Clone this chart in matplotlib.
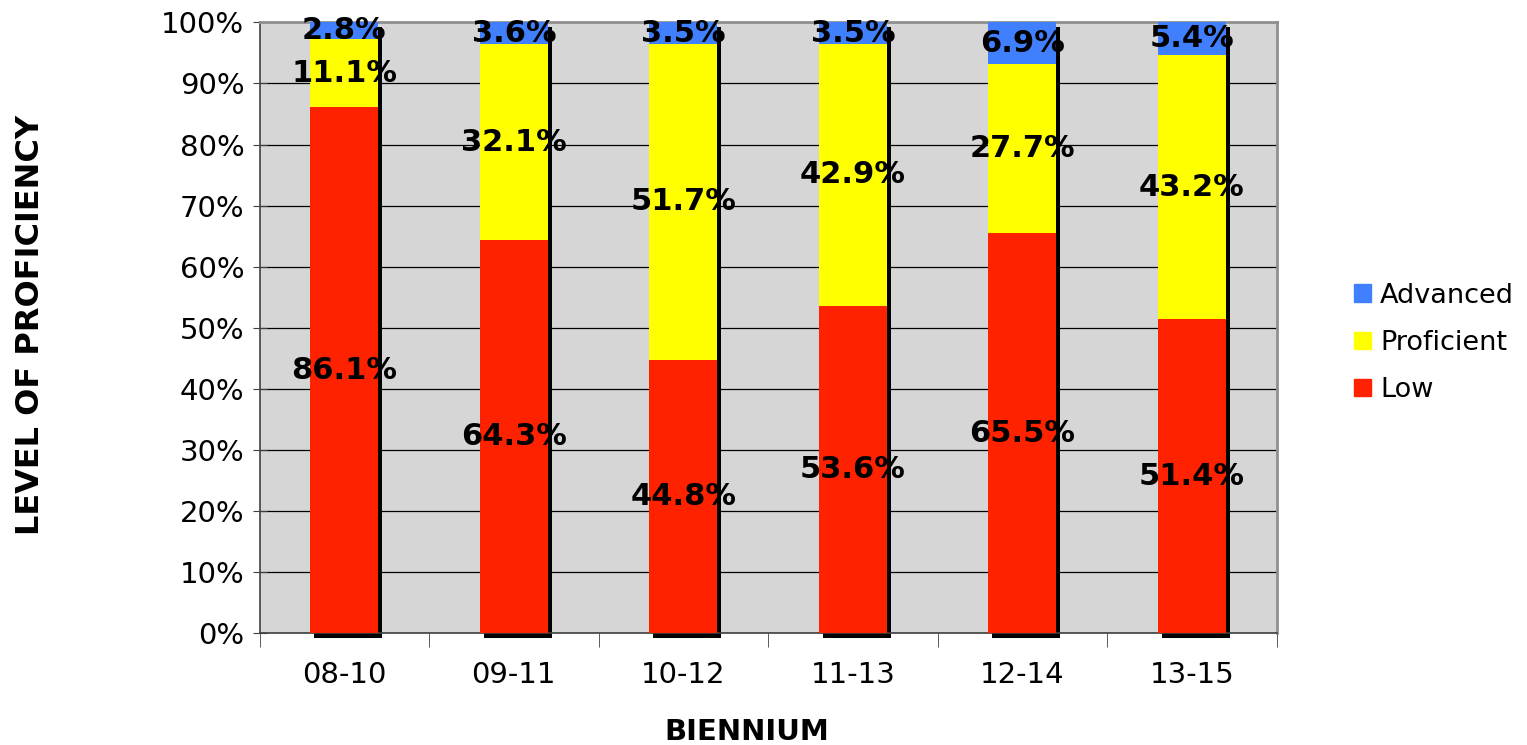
import matplotlib
matplotlib.use("Agg")
import matplotlib.pyplot as plt
import matplotlib.transforms as mtransforms
from matplotlib.patches import Patch
import numpy as np

categories = ["08-10", "09-11", "10-12", "11-13", "12-14", "13-15"]
low = [86.1, 64.3, 44.8, 53.6, 65.5, 51.4]
proficient = [11.1, 32.1, 51.7, 42.9, 27.7, 43.2]
advanced = [2.8, 3.6, 3.5, 3.5, 6.9, 5.4]

series = [("Low", low, "#FF2200"), ("Proficient", proficient, "#FFFF00"),
          ("Advanced", advanced, "#4080FF")]

plt.rcParams["font.family"] = "DejaVu Sans"
fig = plt.figure(figsize=(15.27, 7.45), dpi=100)
ax = fig.add_axes([0.170, 0.150, 0.666, 0.820])
ax.set_facecolor("#D6D6D6")

x = np.arange(len(categories))
width = 0.40

# black drop shadow behind each whole stack
totals = np.array(low) + np.array(proficient) + np.array(advanced)
shift = mtransforms.ScaledTranslation(0.04, -0.05, fig.dpi_scale_trans)
shadows = ax.bar(x, np.minimum(totals, 100) / 100, width, color="black", zorder=2)
for p in shadows:
    p.set_transform(ax.transData + shift)
    p.set_clip_on(False)

bottom = np.zeros(len(categories))
for name, vals, col in series:
    v = np.array(vals) / 100
    h = np.minimum(v, 1 - bottom)
    ax.bar(x, h, width, bottom=bottom, color=col, zorder=3, label=name)
    for xi, b, hi, val in zip(x, bottom, h, vals):
        ax.text(xi, b + hi / 2, f"{val:.1f}%", ha="center", va="center",
                fontsize=22, fontweight="bold", zorder=5)
    bottom = bottom + v

ax.set_xlim(-0.5, len(categories) - 0.5)
ax.set_ylim(0, 1)
yt = np.arange(0, 1.01, 0.1)
ax.set_yticks(yt)
ax.set_yticklabels([f"{int(round(t * 100))}%" for t in yt], fontsize=21)
ax.yaxis.grid(True, color="black", linewidth=0.9, zorder=1)
ax.set_axisbelow(True)
ax.tick_params(axis="y", direction="inout", length=10, color="#404040", pad=6)

ax.set_xticks(x)
ax.set_xticklabels(categories, fontsize=21)
ax.tick_params(axis="x", which="major", length=0, pad=20)
ax.set_xticks(np.arange(-0.5, len(categories) + 0.5, 1), minor=True)
ax.tick_params(axis="x", which="minor", direction="out", length=10, color="#404040")

for s in ["top", "right"]:
    ax.spines[s].set_color("#909090")
    ax.spines[s].set_linewidth(2)
for s in ["left", "bottom"]:
    ax.spines[s].set_color("#404040")
    ax.spines[s].set_linewidth(1.2)

fig.text(0.020, 0.564, "LEVEL OF PROFICIENCY", rotation=90, ha="center",
         va="center", fontsize=23, fontweight="bold")
fig.text(0.489, 0.017, "BIENNIUM", ha="center", va="center",
         fontsize=21, fontweight="bold")

handles = [Patch(color=c, label=n) for n, _, c in reversed(series)]
fig.legend(handles=handles, loc="center left", bbox_to_anchor=(0.887, 0.540),
           frameon=False, fontsize=19.5, handlelength=0.6, handleheight=0.6,
           handletextpad=0.35, labelspacing=0.78, borderaxespad=0, borderpad=0)

fig.savefig("out.png", dpi=100)
